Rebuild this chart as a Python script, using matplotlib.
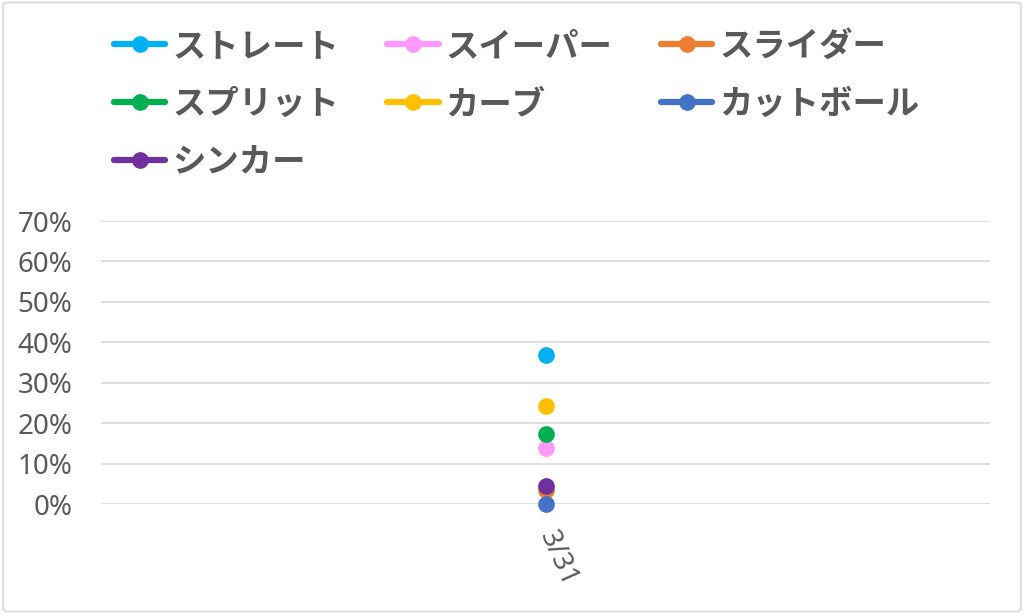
import matplotlib
matplotlib.use("Agg")
import matplotlib.pyplot as plt
from matplotlib.patches import FancyBboxPatch
from matplotlib.ticker import PercentFormatter

plt.rcParams['font.family'] = ['Noto Sans CJK JP', 'DejaVu Sans']

# データ（3/31 の球種割合）
dates = ["3/31"]
pitch_names = ["ストレート", "スイーパー", "スライダー", "スプリット", "カーブ", "カットボール", "シンカー"]
ratios = [
    [0.368],  # ストレート
    [0.139],  # スイーパー
    [0.034],  # スライダー
    [0.173],  # スプリット
    [0.243],  # カーブ
    [0.000],  # カットボール
    [0.045],  # シンカー
]
colors = ["#00B0F0", "#FF99FF", "#ED7D31", "#00B050", "#FFC000", "#4472C4", "#7030A0"]

fig = plt.figure(figsize=(10.24, 6.14), dpi=100)
# 外枠
frame = FancyBboxPatch((0.003, 0.004), 0.994, 0.992, boxstyle="round,pad=0,rounding_size=0.005",
                       transform=fig.transFigure, fc="white", ec="#D9D9D9", lw=1.2, zorder=-10)
fig.patches.append(frame)

ax = fig.add_axes([0.099, 0.179, 0.868, 0.461])
ax.patch.set_alpha(0)
xs = list(range(len(dates)))
lines = []
for name, vals, c in zip(pitch_names, ratios, colors):
    ln, = ax.plot(xs, vals, color=c, lw=4.5, marker="o", ms=11, label=name,
                  solid_capstyle="round", clip_on=False, zorder=3)
    lines.append(ln)

ax.set_xlim(-0.5, 0.5)
ax.set_ylim(0, 0.7)
ax.set_yticks([i / 10 for i in range(8)])
ax.yaxis.set_major_formatter(PercentFormatter(1.0, decimals=0))
ax.set_xticks(xs)
ax.set_xticklabels(dates, rotation=-66, ha="left", va="center", rotation_mode="anchor")
ax.grid(axis="y", color="#D9D9D9", lw=1.2)
ax.set_axisbelow(True)
for s in ax.spines.values():
    s.set_visible(False)
ax.tick_params(length=0, labelsize=20, labelcolor="#595959")
ax.tick_params(axis="y", pad=21)
ax.tick_params(axis="x", pad=20)
for t in ax.get_yticklabels() + ax.get_xticklabels():
    t.set_family(["Noto Sans", "DejaVu Sans"])

# 凡例は行方向に並べる（3列）
order = [0, 3, 6, 1, 4, 2, 5]
leg = fig.legend([lines[i] for i in order], [pitch_names[i] for i in order],
                 loc="upper left", bbox_to_anchor=(0.098, 0.973), ncol=3, frameon=False,
                 prop={"size": 24, "weight": "bold"}, handlelength=1.55, handletextpad=0.2,
                 columnspacing=1.45, labelspacing=0.75, borderaxespad=0)
for t in leg.get_texts():
    t.set_color("#595959")

fig.savefig("out.png", dpi=100)
